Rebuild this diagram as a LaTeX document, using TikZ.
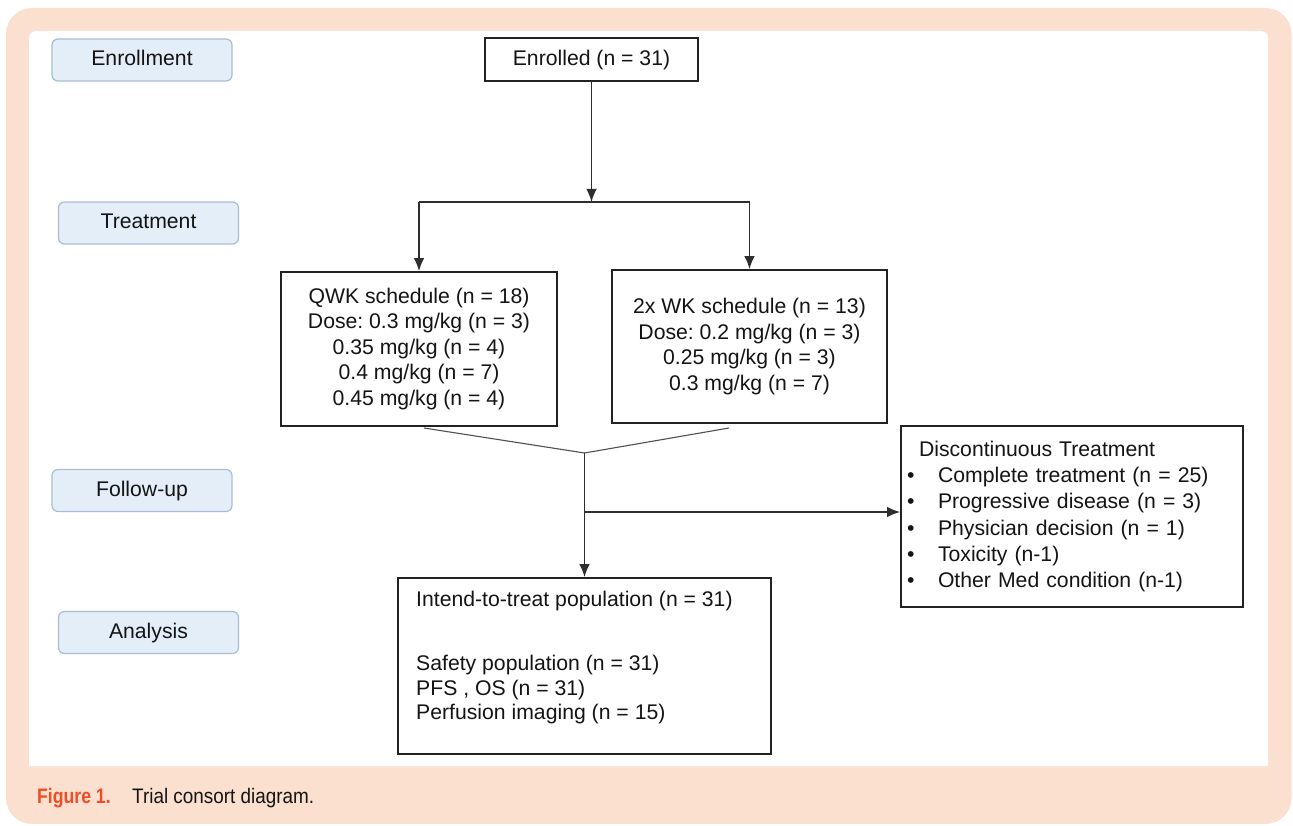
\documentclass[tikz,border=0pt]{standalone}
\usepackage{fontspec}
\setmainfont{Liberation Sans}
\newfontfamily\capfont[FakeStretch=0.9]{Liberation Sans}
\newfontfamily\capbffont[FakeStretch=0.84]{Liberation Sans Bold}
\usetikzlibrary{arrows.meta}
\definecolor{peach}{HTML}{FBDFCF}
\definecolor{labfill}{HTML}{E4EEF8}
\definecolor{labline}{HTML}{A8BDD4}
\definecolor{boxline}{HTML}{222222}
\definecolor{lin}{HTML}{2E2E2E}
\definecolor{thinlin}{HTML}{505050}
\definecolor{txt}{HTML}{141414}
\definecolor{figorange}{HTML}{EE4D25}
\newcommand\mainsz{\fontsize{21.2}{25.5}\selectfont}
\newcommand\capsz{\fontsize{21}{24}\selectfont}
\frenchspacing
\begin{document}
\begin{tikzpicture}[x=1pt,y=-1pt,
  fbox/.style={draw=boxline, line width=1.8pt, inner sep=0pt, align=center, font=\mainsz, text=txt},
  lab/.style={draw=labline, fill=labfill, rounded corners=6pt, line width=1.2pt,
     minimum width=180pt, minimum height=42pt, inner sep=0pt, font=\mainsz, text=txt,
     text height=15.2pt, text depth=4pt},
  conn/.style={draw=lin, line width=1.4pt},
  arr/.style={conn, -{Latex[length=13pt,width=10.5pt]}},
  convline/.style={draw=thinlin, line width=1.1pt},
  captxt/.style={anchor=base west, inner sep=0pt},
]
\frenchspacing
\useasboundingbox (0,0) rectangle (1293,826);
% background frame
\fill[peach, rounded corners=26pt] (6,8) rectangle (1291.5,824);
\fill[white] (29,766) -- (29,38) arc[start angle=180,end angle=270,radius=7]
  -- (1261,31) arc[start angle=270,end angle=360,radius=7] -- (1268,766) -- cycle;

% stage labels
\node[lab] (lenr) at (142,60) {Enrollment};
\node[lab] (ltrt) at (148.5,223) {Treatment};
\node[lab] (lfol) at (142,490.5) {Follow-up};
\node[lab] (lana) at (148.5,632.5) {Analysis};

% boxes
\node[fbox, minimum width=213pt, minimum height=43pt, text height=15.2pt, text depth=4pt]
  (enr) at (591.5,59.5) {Enrolled (n = 31)};
\node[fbox, minimum width=276pt, minimum height=154pt] (qwk) at (419,349)
  {QWK schedule (n = 18)\\Dose: 0.3 mg/kg (n = 3)\\0.35 mg/kg (n = 4)\\0.4 mg/kg (n = 7)\\0.45 mg/kg (n = 4)};
\node[fbox, minimum width=275pt, minimum height=153pt] (wk2) at (749.5,346.5)
  {2x WK schedule (n = 13)\\Dose: 0.2 mg/kg (n = 3)\\0.25 mg/kg (n = 3)\\0.3 mg/kg (n = 7)};
\node[fbox, minimum width=342pt, minimum height=181pt, inner xsep=3pt, text width=336pt,
  align=left, font=\fontsize{21.2}{26.2}\selectfont] (disc) at (1072,516.5)
  {\hspace*{15pt}Discontinuous Treatment\\
   \makebox[34pt][l]{\hspace{3pt}\textbullet}Complete treatment (n = 25)\\
   \makebox[34pt][l]{\hspace{3pt}\textbullet}Progressive disease (n = 3)\\
   \makebox[34pt][l]{\hspace{3pt}\textbullet}Physician decision (n = 1)\\
   \makebox[34pt][l]{\hspace{3pt}\textbullet}Toxicity (n-1)\\
   \makebox[34pt][l]{\hspace{3pt}\textbullet}Other Med condition (n-1)};
\node[fbox, minimum width=373pt, minimum height=176pt] (itt) at (584.5,666) {};
\node[anchor=north west, inner sep=0pt, align=left, text=txt,
  font=\fontsize{21.2}{24.5}\selectfont] (itttext) at (416,590.5)
  {Intend-to-treat population (n = 31)\\[40pt]
   Safety population (n = 31)\\
   PFS , OS (n = 31)\\
   Perfusion imaging (n = 15)};

% connectors
\coordinate (split) at (591.5,202);
\draw[arr] (enr.south) -- (split);
\draw[conn] (qwk.north |- split) -- (wk2.north |- split);
\draw[arr] (qwk.north |- split) -- (qwk.north);
\draw[arr] (wk2.north |- split) -- (wk2.north);

\coordinate (ql) at (424,428);
\coordinate (wr) at (729,428);
\coordinate (join) at (584.5,453);
\coordinate (branch) at (584.5,512);
\draw[convline] (ql) -- (join) -- (wr);
\draw[arr] (join) -- (itt.north);
\draw[arr] (branch) -- (branch -| disc.west);

% caption
\node[captxt, text=figorange, font=\capbffont\capsz] (figlab) at (37,803) {Figure 1.};
\node[captxt, text=txt, font=\capfont\capsz] (figcap) at (132,803) {Trial consort diagram.};
\end{tikzpicture}
\end{document}
